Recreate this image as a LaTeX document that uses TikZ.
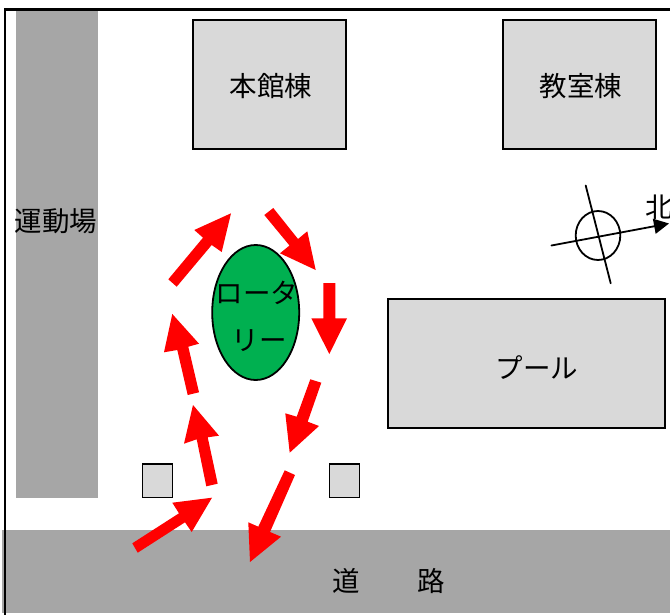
\documentclass[tikz,border=0pt]{standalone}
\usepackage{fontspec}
\setmainfont{Noto Sans CJK JP}
\usetikzlibrary{arrows.meta,shapes.geometric}
\definecolor{roadgray}{HTML}{A6A6A6}
\definecolor{boxgray}{HTML}{D9D9D9}
\definecolor{rotgreen}{HTML}{00B050}
\tikzset{
  x=1pt,y=-1pt,
  lbl/.style={inner sep=0pt,font=\fontsize{27.5}{27.5}\selectfont,text=black},
  building/.style={draw=black,line width=1.9pt,fill=boxgray},
  ground/.style={fill=roadgray},
  flowarrow/.style={fill=red},
  thinline/.style={draw=black,line width=1.8pt,line cap=round},
}
\begin{document}
\begin{tikzpicture}
\useasboundingbox (0,0) rectangle (670,615);
\fill[white] (0,0) rectangle (670,615);
% ground areas
\fill[ground] (2,530) rectangle (670,613);
\fill[ground] (16,10) rectangle (98,498);
% frame
\draw[black,line width=2.2pt] (5,615) -- (5,9.5) -- (670,9.5);
% buildings
\draw[building] (193,20) rectangle (346,149);
\draw[building] (503,20) rectangle (656,149);
\draw[building] (388,299) rectangle (665,428);
\draw[building] (142.5,464) rectangle (172.5,497.5);
\draw[building] (329.5,464) rectangle (359.5,497.5);
% rotary
\node[draw=black,line width=1.8pt,fill=rotgreen,ellipse,minimum width=87pt,minimum height=135pt,inner sep=0pt] (rotary) at (255.7,312.5) {};
% labels
\node[lbl] (honkan) at (271,86) {本館棟};
\node[lbl] (kyoshitsu) at (581,86) {教室棟};
\node[lbl] (pool) at (537,368) {プール};
\node[lbl] (undo) at (56,221) {運動場};
\node[lbl] (michi) at (346,581) {道};
\node[lbl] (ro) at (431,581) {路};
\node[lbl] (rot1) at (257,293) {ロータ};
\node[lbl] (rot2) at (259,341) {リー};
\node[lbl] (kita) at (659,207) {北};
% compass
\draw[thinline] (598,235.5) ellipse (22.3 and 24.5);
\draw[thinline] (585.7,185.5) -- (610.7,283.3);
\draw[thinline,-{Triangle[length=15pt,width=15pt]}] (551.5,245.5) -- (669,223.5);
% red arrows
\fill[flowarrow] (168.3,279.3) -- (203,237.7) -- (194.3,230) -- (231,213.3) -- (221.7,252) -- (211.7,245) -- (176.7,286.7) -- cycle;
\fill[flowarrow] (264.3,215) -- (273.3,208) -- (298,239) -- (307.3,231.3) -- (315.7,270) -- (280,253.3) -- (289.5,245.5) -- cycle;
\fill[flowarrow] (323.3,283) -- (335.3,283) -- (335.3,318.3) -- (347,318.3) -- (329.3,354) -- (311.3,318.3) -- (323.3,318.3) -- cycle;
\fill[flowarrow] (187.7,395) -- (177.3,350) -- (164,352.3) -- (172.3,314) -- (199,343.7) -- (188.3,346.7) -- (199,392.3) -- cycle;
\fill[flowarrow] (206.3,486.3) -- (196.7,439.3) -- (184,443.7) -- (193,405) -- (219,435.7) -- (207.7,437.3) -- (217.7,483.7) -- cycle;
\fill[flowarrow] (132.3,543.3) -- (179,513.3) -- (172.3,502.7) -- (212,497.7) -- (191.7,532) -- (185,522.3) -- (137.7,552.7) -- cycle;
\fill[flowarrow] (310.3,379.3) -- (296.7,416.7) -- (285.3,413.3) -- (289.7,452.7) -- (319,426) -- (307.7,421.7) -- (321.3,382.7) -- cycle;
\fill[flowarrow] (284.7,470.3) -- (258.3,526.7) -- (248.3,522.3) -- (250,562) -- (281,536.7) -- (270,532) -- (295,475) -- cycle;
\end{tikzpicture}
\end{document}
